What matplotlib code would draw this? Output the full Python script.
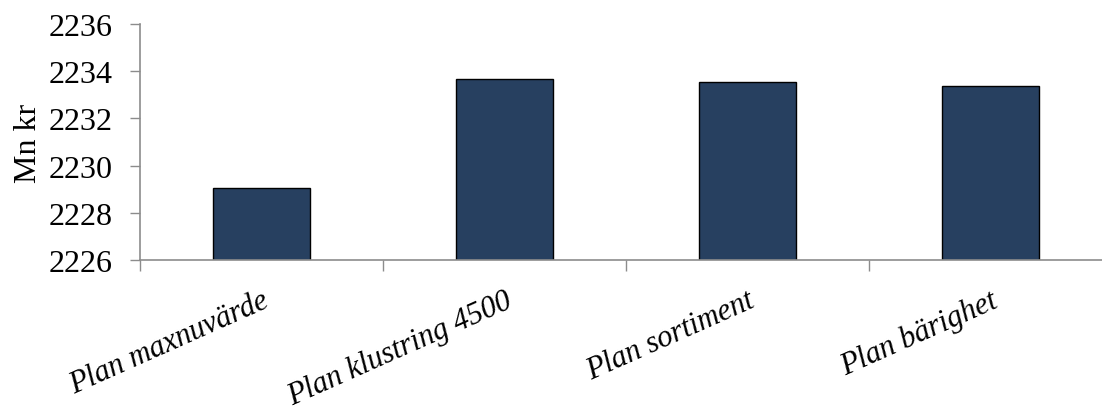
import matplotlib
matplotlib.use("Agg")
from matplotlib import pyplot as plt
import numpy as np

plt.rcParams['font.family'] = ['Liberation Serif', 'DejaVu Serif']

# Nettonuvärde per plan
plans = ["Plan maxnuvärde", "Plan klustring 4500", "Plan sortiment", "Plan bärighet"]
values = [2229.05, 2233.67, 2233.54, 2233.37]
yticks = [2226, 2228, 2230, 2232, 2234, 2236]

W, H = 1102, 410
fig = plt.figure(figsize=(W / 100, H / 100), dpi=100)
ax = fig.add_axes([140 / W, (H - 261) / H, (1112 - 140) / W, (261 - 25) / H])

x = np.arange(len(plans))
ax.bar(x, values, width=0.40, color="#274060", edgecolor="black",
       linewidth=1.0, zorder=2)

ax.set_ylim(2226, 2236)
ax.set_xlim(-0.5, len(plans) - 0.5)
ax.set_yticks(yticks)
ax.set_yticklabels([str(t) for t in yticks], fontsize=23)
ax.set_ylabel("Mn kr", fontsize=23, labelpad=4)

# category ticks at the boundaries, labels at the centres
ax.set_xticks(np.arange(len(plans) + 1) - 0.5)
ax.set_xticklabels([])
ax.tick_params(axis="x", length=8, width=1, color="#8c8c8c", direction="out")
ax.tick_params(axis="y", length=7, width=1, color="#8c8c8c", direction="out", pad=13)
for i, name in enumerate(plans):
    ax.annotate(name, xy=(i, 2226), xycoords="data",
                xytext=(0, -18.5), textcoords="offset points",
                ha="right", va="top", rotation=24, rotation_mode="anchor",
                fontsize=22, fontstyle="italic", annotation_clip=False)

for s in ["top", "right"]:
    ax.spines[s].set_visible(False)
for s in ["left", "bottom"]:
    ax.spines[s].set_color("#8c8c8c")
    ax.spines[s].set_linewidth(1.2)

fig.savefig("out.png", dpi=100)
